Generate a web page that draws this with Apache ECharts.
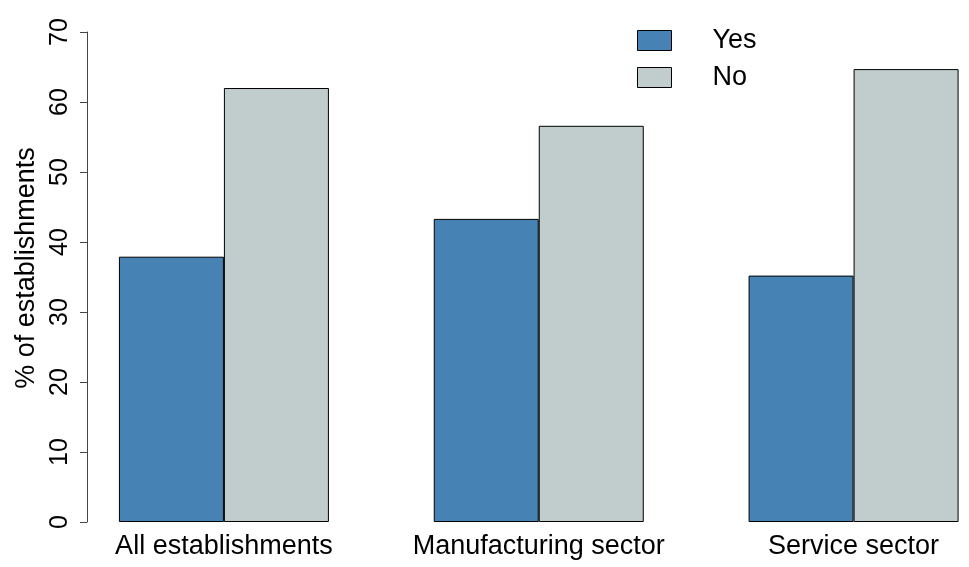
<!DOCTYPE html>
<html>
<head>
<meta charset="utf-8">
<script src="https://cdn.jsdelivr.net/npm/echarts@6/dist/echarts.min.js"></script>
<style>html,body{margin:0;padding:0;background:#fff;overflow:hidden;width:969px;height:567px;}#c{width:1011px;height:567px;}</style>
</head>
<body>
<div id="c"></div>
<script>
const categories = ["All establishments", "Manufacturing sector", "Service sector"];
const yesValues = [37.9, 43.3, 35.2];
const noValues = [62.0, 56.6, 64.7];
const seriesNames = ["Yes", "No"];
const yTicks = [0, 10, 20, 30, 40, 50, 60, 70];

const chart = echarts.init(document.getElementById('c'), null, {renderer: 'canvas'});
const font = 'Liberation Sans, Arial, sans-serif';
chart.setOption({
  animation: false,
  backgroundColor: '#fff',
  grid: {left: 66.5, right: 0, top: 32, bottom: 45, containLabel: false},
  legend: {
    orient: 'vertical', left: 637, top: 27, padding: 0,
    itemWidth: 34, itemHeight: 20, itemGap: 10,
    icon: 'rect',
    data: seriesNames,
    itemStyle: {borderWidth: 1, borderColor: '#000'},
    textStyle: {fontFamily: font, fontSize: 27, lineHeight: 20, color: '#000', padding: [0, 0, 0, 36]}
  },
  xAxis: {
    type: 'category', data: categories,
    axisLine: {show: false}, axisTick: {show: false},
    axisLabel: {interval: 0, hideOverlap: false, fontFamily: font, fontSize: 27, color: '#000', margin: 11}
  },
  yAxis: {
    type: 'value', min: yTicks[0], max: yTicks[yTicks.length - 1], interval: 10,
    offset: -20.5,
    splitLine: {show: false},
    axisLine: {show: true, lineStyle: {color: '#444', width: 1}},
    axisTick: {show: true, length: 7, lineStyle: {color: '#444'}},
    axisLabel: {rotate: 90, fontFamily: font, fontSize: 25, color: '#000', margin: 14},
    name: '% of establishments', nameLocation: 'middle', nameRotate: 90, nameGap: 47,
    nameTextStyle: {fontFamily: font, fontSize: 27, color: '#000', padding: [0, 0, 0, 18]}
  },
  series: [
    {name: seriesNames[0], type: 'bar', data: yesValues, barWidth: 105, barGap: '0%',
     itemStyle: {color: '#4682B4', borderColor: '#000', borderWidth: 1}},
    {name: seriesNames[1], type: 'bar', data: noValues, barWidth: 105, barGap: '0%',
     itemStyle: {color: '#C1CDCD', borderColor: '#000', borderWidth: 1}}
  ]
});
</script>
</body>
</html>
